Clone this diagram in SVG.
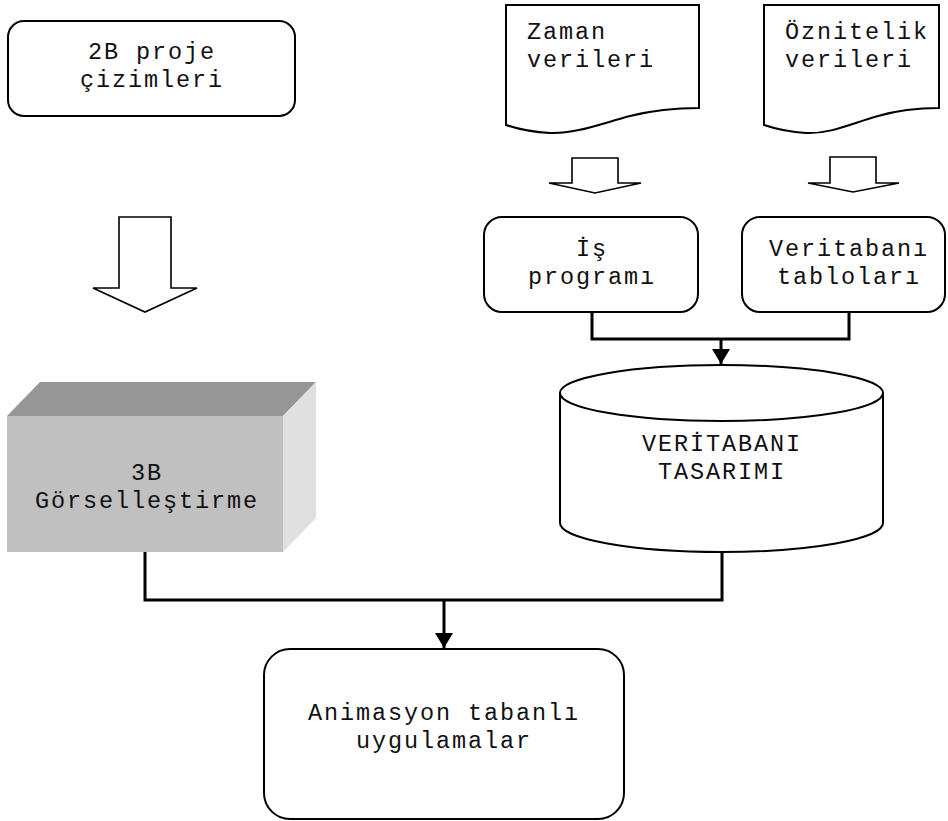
<svg xmlns="http://www.w3.org/2000/svg" width="948" height="821" viewBox="0 0 948 821">
<style>
.t{font-family:"Liberation Mono","Courier New",monospace;font-size:23.5px;letter-spacing:1.9px;fill:#111;}
.m{text-anchor:middle;}
.box{fill:#fff;stroke:#000;stroke-width:2;}
.blk{fill:#fff;stroke:#000;stroke-width:1.6;stroke-linejoin:miter;}
.con{fill:none;stroke:#000;stroke-width:3;}
</style>
<defs>
<marker id="ah" markerWidth="5" markerHeight="6" refX="5" refY="3" orient="auto" markerUnits="strokeWidth">
<path d="M0,0 L5,3 L0,6 Z" fill="#000"/>
</marker>
</defs>
<rect width="948" height="821" fill="#fff"/>

<g id="n-2b">
<rect class="box" x="8" y="21" width="287" height="95" rx="16"/>
<text class="t m" x="152" y="59">2B proje</text>
<text class="t m" x="152" y="87">çizimleri</text>
</g>

<g id="n-zaman">
<path class="box" d="M506,5 H699 V108 C670,108 650,111 630,116 C600,124 575,134 550,133 C530,132 515,128 506,125 Z"/>
<text class="t" x="527" y="39">Zaman</text>
<text class="t" x="527" y="67">verileri</text>
</g>

<g id="n-oznitelik">
<path class="box" d="M764,5 H939 V108 C912,108 895,111 878,116 C850,124 830,134 806,133 C788,132 773,128 764,125 Z"/>
<text class="t" x="785" y="39">Öznitelik</text>
<text class="t" x="785" y="67">verileri</text>
</g>

<g id="a-big">
<path class="blk" d="M119,217 H171 V288 H197 L145,312 L93,288 H119 Z"/>
</g>
<g id="a-zaman">
<path class="blk" d="M572,158 H618 V183 H641 L595,193 L549,183 H572 Z"/>
</g>
<g id="a-oznitelik">
<path class="blk" d="M830,157 H876 V183 H899 L853,192 L808,183 H830 Z"/>
</g>

<g id="n-is">
<rect class="box" x="484" y="217" width="214" height="95" rx="18"/>
<text class="t m" x="592" y="256">İş</text>
<text class="t m" x="592" y="284">programı</text>
</g>

<g id="n-veritabani">
<rect class="box" x="742" y="217" width="203" height="95" rx="18"/>
<text class="t m" x="849" y="256">Veritabanı</text>
<text class="t m" x="849" y="284">tabloları</text>
</g>

<g id="n-cyl">
<path class="box" d="M560,393 A161.5,28 0 0 1 883,393 V523 A161.5,29 0 0 1 560,523 Z"/>
<path class="box" fill="none" d="M560,393 A161.5,28 0 0 0 883,393"/>
<text class="t m" x="722" y="451">VERİTABANI</text>
<text class="t m" x="722" y="479">TASARIMI</text>
</g>

<g id="n-3b">
<polygon points="7,416 283,416 316,382 40,382" fill="#969696"/>
<polygon points="283,416 316,382 316,518 283,552" fill="#e0e0e0"/>
<rect x="7" y="416" width="276" height="136" fill="#c0c0c0"/>
<text class="t m" x="147" y="480">3B</text>
<text class="t m" x="147" y="508">Görselleştirme</text>
</g>

<g id="n-anim">
<rect class="box" x="264" y="649" width="360" height="170" rx="26"/>
<text class="t m" x="444" y="720">Animasyon tabanlı</text>
<text class="t m" x="444" y="748">uygulamalar</text>
</g>

<g id="connectors">
<path class="con" d="M592,312 V339 H849 V312"/>
<line class="con" x1="721" y1="339" x2="721" y2="364" marker-end="url(#ah)"/>
<path class="con" d="M145,552 V600 H722 V552"/>
<line class="con" x1="444" y1="600" x2="444" y2="648" marker-end="url(#ah)"/>
</g>
</svg>
